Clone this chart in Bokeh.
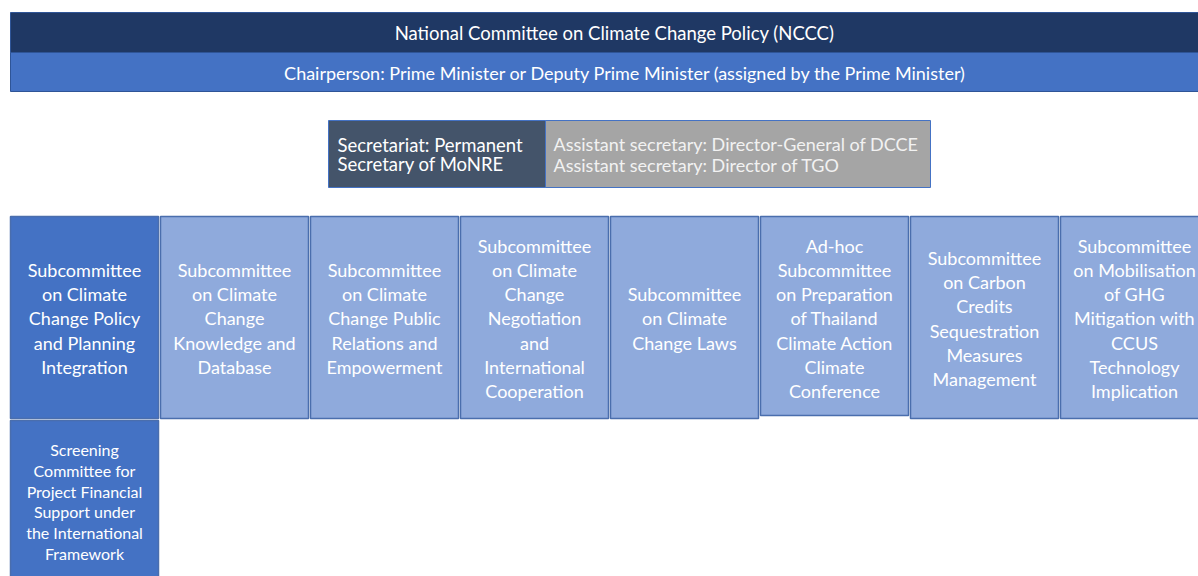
from bokeh.plotting import figure
from bokeh.models import Range1d, ColumnDataSource
from bokeh.core.properties import value
from bokeh.embed import file_html
from bokeh.resources import INLINE

# ---- content ----
title_text = "National Committee on Climate Change Policy (NCCC)"
chair_text = "Chairperson: Prime Minister or Deputy Prime Minister (assigned by the Prime Minister)"
secretariat_text = "Secretariat: Permanent\nSecretary of MoNRE"
assistant_text = "Assistant secretary: Director-General of DCCE\nAssistant secretary: Director of TGO"
subcommittees = [
    "Subcommittee\non Climate\nChange Policy\nand Planning\nIntegration",
    "Subcommittee\non Climate\nChange\nKnowledge and\nDatabase",
    "Subcommittee\non Climate\nChange Public\nRelations and\nEmpowerment",
    "Subcommittee\non Climate\nChange\nNegotiation\nand\nInternational\nCooperation",
    "Subcommittee\non Climate\nChange Laws",
    "Ad-hoc\nSubcommittee\non Preparation\nof Thailand\nClimate Action\nClimate\nConference",
    "Subcommittee\non Carbon\nCredits\nSequestration\nMeasures\nManagement",
    "Subcommittee\non Mobilisation\nof GHG\nMitigation with\nCCUS\nTechnology\nImplication",
]
highlighted = [True, False, False, False, False, False, False, False]
screening_text = "Screening\nCommittee for\nProject Financial\nSupport under\nthe International\nFramework"

FONT = value("Lato")

p = figure(width=1198, height=576, x_range=Range1d(0, 1198), y_range=Range1d(576, 0),
           output_backend="svg", toolbar_location=None, min_border=0,
           x_axis_location=None, y_axis_location=None)
p.grid.visible = False
p.outline_line_color = None
p.background_fill_color = "white"
p.border_fill_color = "white"

# top bars
p.quad(left=[10], right=[1240], top=[12], bottom=[52], fill_color="#1F3864", line_color="#2F5597", line_width=1)
p.quad(left=[10], right=[1240], top=[52], bottom=[91], fill_color="#4472C4", line_color="#2F5597", line_width=1)
p.text(x=[614], y=[32], text=[title_text], text_color="white", text_font=FONT, text_font_size="18.5px",
       text_align="center", text_baseline="middle")
p.text(x=[625], y=[72], text=[chair_text], text_color="white", text_font=FONT, text_font_size="18px",
       text_align="center", text_baseline="middle")

# secretariat
p.quad(left=[328], right=[545], top=[120], bottom=[187], fill_color="#44546A", line_color="#4472C4", line_width=1)
p.quad(left=[545], right=[930], top=[120], bottom=[187], fill_color="#A5A5A5", line_color="#4472C4", line_width=1)
p.text(x=[337], y=[154], text=[secretariat_text], text_color="white", text_font=FONT, text_font_size="18.5px",
       text_align="left", text_baseline="middle", text_line_height=0.9)
p.text(x=[553], y=[154], text=[assistant_text], text_color="#F2F2F2", text_font=FONT, text_font_size="18px",
       text_align="left", text_baseline="middle", text_line_height=0.93)

# subcommittee row
n = len(subcommittees)
lefts = [10 + 150 * i for i in range(n)]
src = ColumnDataSource(dict(
    left=lefts,
    right=[l + 148 for l in lefts],
    top=[216] * n,
    bottom=[418 if i != 5 else 415 for i in range(n)],
    cx=[l + 74 for l in lefts],
    cy=[318] * n,
    text=subcommittees,
    fill=["#4472C4" if h else "#8FAADC" for h in highlighted],
))
p.quad(left="left", right="right", top="top", bottom="bottom", fill_color="fill",
       line_color="#4A6EAD", line_width=1.5, source=src)
p.text(x="cx", y="cy", text="text", source=src, text_color="white", text_font=FONT,
       text_font_size="18px", text_align="center", text_baseline="middle", text_line_height=1.1)

# screening committee
p.quad(left=[10], right=[158], top=[420], bottom=[590], fill_color="#4472C4", line_color="#4A6EAD", line_width=1.5)
p.text(x=[84], y=[501], text=[screening_text], text_color="white", text_font=FONT, text_font_size="16px",
       text_align="center", text_baseline="middle", text_line_height=1.09)

open("out.html", "w").write(file_html(p, INLINE))
